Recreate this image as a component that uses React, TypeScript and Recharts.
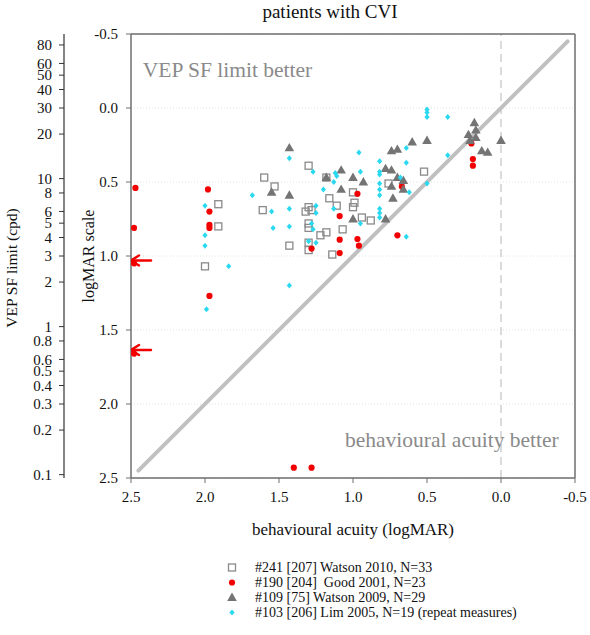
import {
  ScatterChart,
  Scatter,
  XAxis,
  YAxis,
  CartesianGrid,
  ReferenceLine,
  ReferenceDot,
  Legend,
} from 'recharts';

const FONT = '"Liberation Serif", "Times New Roman", Times, serif';

const logmarTicks = [-0.5, 0, 0.5, 1, 1.5, 2, 2.5];
const cpdTicks = [80, 60, 50, 40, 30, 20, 10, 8, 6, 5, 4, 3, 2, 1, 0.8, 0.6, 0.5, 0.4, 0.3, 0.2, 0.1];

// pairs: [behavioural acuity (logMAR), VEP SF limit (logMAR)]
const watson2010 = [
  [1.6, 0.47], [1.53, 0.53], [1.91, 0.65], [1.91, 0.8], [1.61, 0.69], [2.0, 1.07],
  [1.43, 0.93], [1.3, 0.39], [1.3, 0.67], [1.32, 0.7], [1.28, 0.69], [1.3, 0.78],
  [1.3, 0.81], [1.3, 0.91], [1.3, 0.96], [1.22, 0.86], [1.18, 0.84], [1.18, 0.47],
  [1.16, 0.61], [1.11, 0.66], [1.07, 0.82], [1.0, 0.57], [0.99, 0.64], [1.0, 0.67],
  [0.94, 0.74], [0.88, 0.76], [1.14, 0.99], [0.76, 0.51], [0.52, 0.43],
];

const good2001 = [
  [2.47, 0.54], [2.48, 0.81], [2.48, 1.05], [2.48, 1.66], [1.98, 0.55], [1.97, 0.7],
  [1.97, 0.79], [1.97, 0.81], [1.97, 1.27], [1.28, 0.95], [1.09, 0.73], [1.09, 0.89],
  [1.09, 0.98], [0.97, 0.58], [0.97, 0.885], [0.96, 0.93], [0.7, 0.86], [0.67, 0.53],
  [0.2, 0.24], [0.19, 0.345], [0.19, 0.39], [1.4, 2.43], [1.28, 2.43],
];

const watson2009 = [
  [1.43, 0.27], [1.55, 0.57], [1.43, 0.59], [1.18, 0.47], [1.08, 0.42], [1.08, 0.55],
  [1.0, 0.47], [0.93, 0.5], [1.0, 0.75], [0.78, 0.41], [0.74, 0.42], [0.7, 0.47],
  [0.66, 0.49], [0.74, 0.53], [0.66, 0.55], [0.73, 0.61], [0.78, 0.75], [0.74, 0.29],
  [0.7, 0.28], [0.6, 0.23], [0.5, 0.22], [0.22, 0.18], [0.18, 0.1], [0.17, 0.15],
  [0.17, 0.2], [0.13, 0.29], [0.09, 0.3], [0.0, 0.22], [0.21, 0.22],
];

const lim2005 = [
  [1.43, 0.34], [1.27, 0.43], [1.68, 0.59], [1.55, 0.7], [1.54, 0.81], [1.43, 0.68],
  [1.43, 0.8], [1.25, 0.66], [1.28, 0.78], [1.27, 0.82], [1.3, 0.9], [1.25, 0.91],
  [2.0, 0.66], [2.0, 0.86], [2.0, 0.93], [1.84, 1.07], [1.43, 1.2], [1.99, 1.36],
  [1.12, 0.44], [1.11, 0.46], [1.13, 0.5], [1.2, 0.55], [1.13, 0.68], [0.96, 0.3],
  [0.95, 0.43], [0.82, 0.36], [0.82, 0.43], [0.82, 0.45], [0.82, 0.51], [0.82, 0.55],
  [0.82, 0.59], [0.82, 0.68], [0.82, 0.71], [0.82, 0.74], [0.95, 0.78], [1.25, 0.71],
  [0.64, 0.27], [0.64, 0.37], [0.68, 0.47], [0.62, 0.57], [0.5, 0.51], [0.64, 0.87],
  [0.5, 0.01], [0.5, 0.03], [0.5, 0.06], [0.36, 0.06], [0.36, 0.32],
];

// Good 2001 cases with the VEP limit off the bottom of the scale
const offScale = [
  [2.5, 1.03], [2.5, 1.635],
];

const seriesLabels = [
  '#241 [207] Watson 2010, N=33',
  '#190 [204]  Good 2001, N=23',
  '#109 [75] Watson 2009, N=29',
  '#103 [206] Lim 2005, N=19 (repeat measures)',
];

const toPoints = (pairs: number[][]) => pairs.map(([x, y]) => ({ x, y }));
const cpdToLogMAR = (cpd: number) => Math.log10(30 / cpd);
const cpdLabel = (v: number) => {
  const c = 30 / Math.pow(10, v);
  return c >= 1 ? String(Math.round(c)) : String(Math.round(c * 10) / 10);
};

const Square = ({ cx, cy }: any) => (
  <rect x={cx - 3.5} y={cy - 3.5} width={7} height={7} fill="none" stroke="#8a8a8a" strokeWidth={1.3} />
);
const Dot = ({ cx, cy }: any) => <circle cx={cx} cy={cy} r={3.1} fill="#f20000" />;
const Tri = ({ cx, cy }: any) => (
  <polygon points={`${cx},${cy - 5} ${cx + 4.8},${cy + 3.4} ${cx - 4.8},${cy + 3.4}`} fill="#747474" />
);
const Diamond = ({ cx, cy }: any) => (
  <polygon points={`${cx},${cy - 3} ${cx + 2.6},${cy} ${cx},${cy + 3} ${cx - 2.6},${cy}`} fill="#2ad9f0" />
);
const Arrow = ({ cx, cy }: any) => (
  <g stroke="#f20000" strokeWidth={2.4} fill="none" strokeLinecap="round">
    <line x1={cx} y1={cy} x2={cx + 20} y2={cy} />
    <polyline points={`${cx + 8},${cy - 5} ${cx},${cy} ${cx + 8},${cy + 5}`} />
  </g>
);

const markers = [Square, Dot, Tri, Diamond];

function LegendBox() {
  return (
    <div style={{ paddingTop: 52, fontFamily: FONT, fontSize: 14, color: '#111' }}>
      {seriesLabels.map((label, i) => {
        const M = markers[i];
        return (
          <div key={label} style={{ display: 'flex', alignItems: 'center', height: 15, whiteSpace: 'pre' }}>
            <svg width={14} height={15}>
              <M cx={7} cy={7.5} />
            </svg>
            <span style={{ marginLeft: 16 }}>{label}</span>
          </div>
        );
      })}
    </div>
  );
}

function SideTitle({ viewBox, text, dx, dy = 0, size }: any) {
  if (!viewBox) return null;
  const x = viewBox.x + dx;
  const y = viewBox.y + viewBox.height / 2 + dy;
  return (
    <text x={x} y={y} transform={`rotate(-90 ${x} ${y})`} textAnchor="middle" dominantBaseline="central"
      fontFamily={FONT} fontSize={size} fill="#111">
      {text}
    </text>
  );
}

function BottomTitle({ viewBox, text }: any) {
  if (!viewBox) return null;
  return (
    <text x={viewBox.x + viewBox.width / 2} y={viewBox.y + 57} textAnchor="middle"
      fontFamily={FONT} fontSize={17} fill="#111">
      {text}
    </text>
  );
}

const tickStyle = { fontSize: 15, fill: '#111', fontFamily: FONT };
const frame = { stroke: '#6e6e6e', strokeWidth: 1.5 };

export default function App() {
  return (
    <div style={{ position: 'relative', width: 590, height: 635, fontFamily: FONT }}>
      <style>{'body { margin: 0; }'}</style>
      <ScatterChart width={590} height={635} margin={{ top: 34, right: 15, bottom: 15, left: 0 }}>
        <CartesianGrid vertical={false} yAxisId="inner" stroke="#e2e2e2" strokeDasharray="1 2" />
        <XAxis type="number" dataKey="x" domain={[-0.5, 2.5]} reversed allowDataOverflow ticks={logmarTicks}
          tickFormatter={(v: number) => v.toFixed(1)} height={30} tickSize={5} tickMargin={8}
          axisLine={frame} tickLine={{ stroke: '#6e6e6e' }} tick={tickStyle}
          label={<BottomTitle text="behavioural acuity (logMAR)" />} />
        <YAxis yAxisId="outer" type="number" dataKey="y" domain={[-0.5, 2.5]} reversed allowDataOverflow
          ticks={cpdTicks.map(cpdToLogMAR)} interval={0} tickFormatter={cpdLabel} width={64} tickSize={5} tickMargin={7}
          axisLine={{ stroke: '#333', strokeWidth: 1.2 }} tickLine={{ stroke: '#333' }} tick={tickStyle}
          label={<SideTitle text="VEP SF limit (cpd)" dx={11} dy={12} size={15.5} />} />
        <YAxis yAxisId="inner" type="number" dataKey="y" domain={[-0.5, 2.5]} reversed allowDataOverflow
          ticks={logmarTicks} interval={0} tickFormatter={(v: number) => v.toFixed(1)} width={67} tickSize={5} tickMargin={8}
          axisLine={frame} tickLine={{ stroke: '#6e6e6e' }} tick={tickStyle}
          label={<SideTitle text="logMAR scale" dx={24} size={16} />} />
        <ReferenceLine yAxisId="inner" x={0} stroke="#c8c8c8" strokeWidth={1.3} strokeDasharray="8 5" />
        <ReferenceLine yAxisId="inner" segment={[{ x: 2.45, y: 2.45 }, { x: -0.45, y: -0.45 }]}
          stroke="#c0c0c0" strokeWidth={4} strokeLinecap="round" />
        <ReferenceLine yAxisId="inner" y={-0.5} {...frame} />
        <ReferenceLine yAxisId="inner" x={-0.5} {...frame} />
        <ReferenceDot yAxisId="inner" x={1.0} y={-0.5} r={0} ifOverflow="visible"
          shape={(p: any) => (
            <text x={p.cx - 23} y={p.cy - 16} textAnchor="middle" fontFamily={FONT} fontSize={19} fill="#111">patients with CVI</text>
          )} />
        <ReferenceDot yAxisId="inner" x={2.42} y={-0.21} r={0}
          shape={(p: any) => (
            <text x={p.cx} y={p.cy} fontFamily={FONT} fontSize={21.5} fill="#8a8a8a">VEP SF limit better</text>
          )} />
        <ReferenceDot yAxisId="inner" x={-0.39} y={2.29} r={0}
          shape={(p: any) => (
            <text x={p.cx} y={p.cy} textAnchor="end" fontFamily={FONT} fontSize={21.5} fill="#8a8a8a">behavioural acuity better</text>
          )} />
        <Scatter name={seriesLabels[0]} yAxisId="inner" data={toPoints(watson2010)} shape={Square} isAnimationActive={false} />
        <Scatter name={seriesLabels[1]} yAxisId="inner" data={toPoints(good2001)} shape={Dot} isAnimationActive={false} />
        <Scatter name={seriesLabels[2]} yAxisId="inner" data={toPoints(watson2009)} shape={Tri} isAnimationActive={false} />
        <Scatter name={seriesLabels[3]} yAxisId="inner" data={toPoints(lim2005)} shape={Diamond} isAnimationActive={false} />
        <Scatter yAxisId="outer" data={toPoints(offScale)} shape={Arrow} legendType="none" isAnimationActive={false} />
        <Legend verticalAlign="bottom" layout="vertical" align="center" content={<LegendBox />}
          wrapperStyle={{ left: 225, width: 340 }} />
      </ScatterChart>
    </div>
  );
}
